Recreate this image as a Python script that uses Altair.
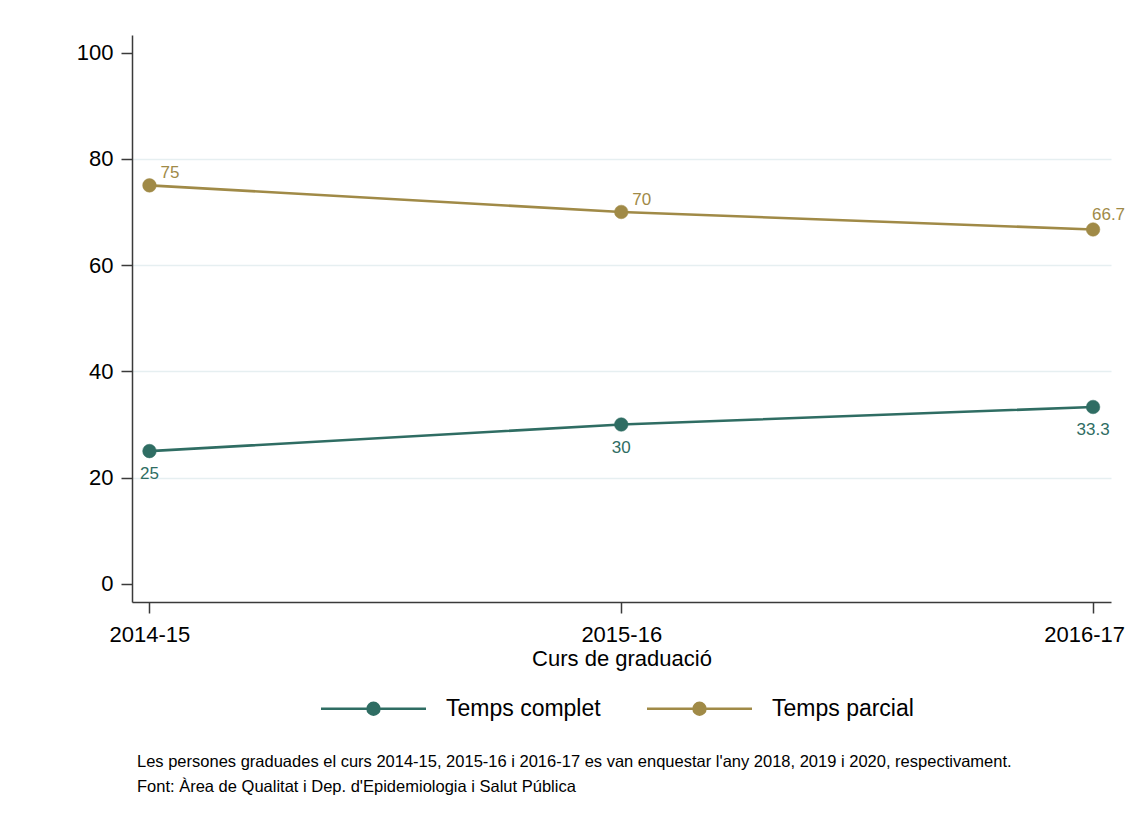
import json
import altair as alt
import pandas as pd

# ---- data ----
years = ["2014-15", "2015-16", "2016-17"]
series_names = ["Temps complet", "Temps parcial"]
temps_complet = [25, 30, 33.3]
temps_parcial = [75, 70, 66.7]
colors = ["#2f6d63", "#a08a47"]
footnotes = [
    "Les persones graduades el curs 2014-15, 2015-16 i 2016-17 es van enquestar l'any 2018, 2019 i 2020, respectivament.",
    "Font: Àrea de Qualitat i Dep. d'Epidemiologia i Salut Pública",
]
y_ticks = [0, 20, 40, 60, 80, 100]

rows = []
for s, vals in zip(series_names, [temps_complet, temps_parcial]):
    for i, (yr, v) in enumerate(zip(years, vals)):
        rows.append({"serie": s, "idx": i, "curs": yr, "valor": v, "etiqueta": f"{v:g}"})
df = pd.DataFrame(rows)

FONT = "Liberation Sans"
AXIS_COLOR = "#3a3a3a"

# colour scale for lines/labels: data-driven domain (sorted) so that it does not
# merge with the (explicit-domain) fill/stroke legend below
cscale_lines = alt.Scale(range=colors)
cscale_legend = alt.Scale(domain=series_names, range=colors)

x_enc = alt.X(
    "idx:Q",
    scale=alt.Scale(domain=[-0.037, 2.038], nice=False, zero=False),
    axis=alt.Axis(
        values=[0, 1, 2],
        labelExpr=json.dumps(years) + "[datum.value]",
        # last tick label nudged left so it is not cut at the page edge
        labelOffset={"condition": {"test": "datum.value == 2", "value": -9}, "value": 0},
        title="Curs de graduació",
        titleFont=FONT,
        titleFontSize=22,
        titleFontWeight="normal",
        titleColor="black",
        titlePadding=3,
        grid=False,
        tickSize=11,
        labelPadding=11,
    ),
)
y_enc = alt.Y(
    "valor:Q",
    scale=alt.Scale(domain=[-3.4, 103.3], nice=False, zero=False),
    axis=alt.Axis(
        values=y_ticks,
        title=None,
        grid=True,
        gridColor="#e6eff1",
        gridWidth=1.5,
        gridOpacity={"condition": {"test": "datum.value <= 0 || datum.value >= 100", "value": 0}, "value": 1},
        tickSize=11,
        labelPadding=8,
    ),
)

base = alt.Chart(df).encode(x=x_enc, y=y_enc)

SYMBOL = ("M-7.5,0L-0.85,0M0.85,0L7.5,0"
          "M-0.85,0A0.85,0.85,0,1,1,0.85,0A0.85,0.85,0,1,1,-0.85,0Z")

legend_def = alt.Legend(
    title=None,
    orient="none",
    legendX=230,
    legendY=662,
    direction="horizontal",
    symbolType=SYMBOL,
    symbolSize=196,
    symbolStrokeWidth=2.5,
    symbolOpacity=1,
    labelFont=FONT,
    labelFontSize=23,
    labelColor="black",
    labelOffset=61,
    columnPadding=41,
    padding=0,
    labelLimit=400,
)

line = base.mark_line(strokeWidth=2.6).encode(
    color=alt.Color("serie:N", scale=cscale_lines, legend=None),
    detail="serie:N",
)
points = base.mark_point(filled=True, size=185, opacity=1, strokeWidth=0.5).encode(
    fill=alt.Fill("serie:N", scale=cscale_legend, legend=legend_def),
    stroke=alt.Stroke("serie:N", scale=cscale_legend, legend=legend_def),
)
lab_complet = base.transform_filter(alt.datum.serie == series_names[0]).mark_text(
    align="center", baseline="middle", dy=23, fontSize=17, font=FONT
).encode(text="etiqueta:N", color=alt.Color("serie:N", scale=cscale_lines, legend=None))
lab_parcial = base.transform_filter(
    (alt.datum.serie == series_names[1]) & (alt.datum.idx < 2)
).mark_text(
    align="left", baseline="middle", dx=11, dy=-12, fontSize=17, font=FONT
).encode(text="etiqueta:N", color=alt.Color("serie:N", scale=cscale_lines, legend=None))
# last label kept inside the page edge
lab_parcial_last = base.transform_filter(
    (alt.datum.serie == series_names[1]) & (alt.datum.idx == 2)
).mark_text(
    align="right", baseline="middle", dx=32, dy=-14, fontSize=17, font=FONT
).encode(text="etiqueta:N", color=alt.Color("serie:N", scale=cscale_lines, legend=None))

notes = alt.Chart(pd.DataFrame({"n": [0]})).mark_text(
    text=footnotes, align="left", baseline="alphabetic", lineHeight=25,
    fontSize=16.5, font=FONT, color="black",
).encode(x=alt.value(5), y=alt.value(731.5))

chart = (
    alt.layer(line, points, lab_complet, lab_parcial, lab_parcial_last, notes)
    .properties(
        width=979,
        height=567,
        padding={"left": 124, "top": 27, "right": 15, "bottom": 214},
        autosize=alt.AutoSizeParams(type="none"),
        background="white",
    )
    .configure_view(stroke="transparent")
    .configure_axis(
        domainColor=AXIS_COLOR,
        domainWidth=1.5,
        tickColor=AXIS_COLOR,
        tickWidth=1.5,
        labelColor="black",
        labelFont=FONT,
        labelFontSize=22,
    )
)

chart.save("out.html", embed_options={"renderer": "svg", "actions": False})
